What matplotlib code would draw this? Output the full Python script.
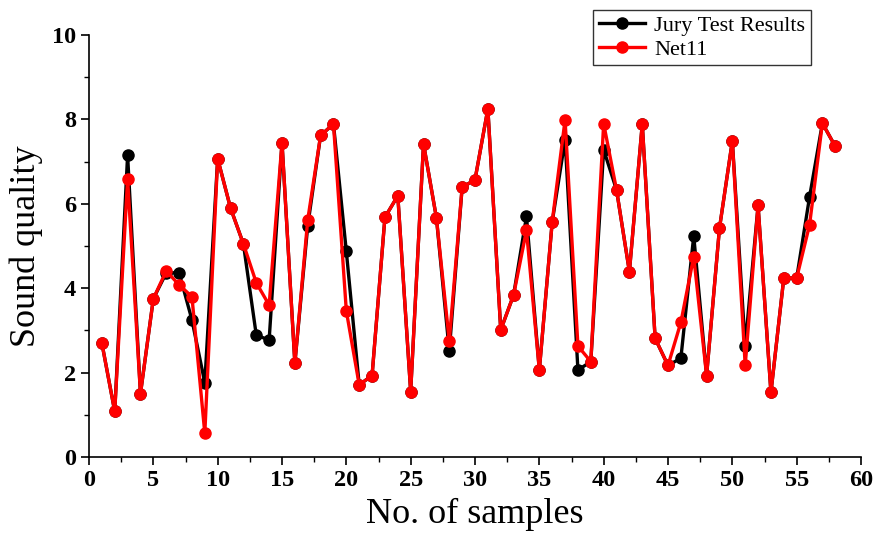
import matplotlib
matplotlib.use("Agg")
import matplotlib.pyplot as plt
from matplotlib.ticker import MultipleLocator

plt.rcParams["font.family"] = ["Liberation Serif", "DejaVu Serif"]

samples = list(range(1, 59))

jury = [2.70, 1.08, 7.15, 1.50, 3.75, 4.36, 4.37, 3.25, 1.76, 7.07,
        5.90, 5.05, 2.89, 2.77, 7.45, 2.22, 5.48, 7.62, 7.89, 4.87,
        1.71, 1.93, 5.68, 6.19, 1.55, 7.42, 5.67, 2.51, 6.39, 6.57,
        8.25, 3.01, 3.84, 5.70, 2.06, 5.57, 7.52, 2.06, 2.26, 7.28,
        6.33, 4.39, 7.89, 2.81, 2.17, 2.34, 5.24, 1.93, 5.42, 7.49,
        2.63, 5.96, 1.53, 4.24, 4.24, 6.16, 7.91, 7.36]

net11 = [2.70, 1.08, 6.58, 1.50, 3.75, 4.41, 4.08, 3.80, 0.56, 7.07,
         5.90, 5.05, 4.13, 3.60, 7.45, 2.22, 5.62, 7.62, 7.89, 3.46,
         1.71, 1.93, 5.68, 6.19, 1.55, 7.42, 5.67, 2.75, 6.39, 6.57,
         8.25, 3.01, 3.84, 5.37, 2.06, 5.57, 7.99, 2.63, 2.26, 7.90,
         6.33, 4.39, 7.89, 2.81, 2.17, 3.19, 4.75, 1.93, 5.42, 7.49,
         2.17, 5.96, 1.53, 4.24, 4.24, 5.50, 7.91, 7.36]

fig = plt.figure(figsize=(8.77, 5.40), dpi=100)
ax = fig.add_axes([89 / 877, 83 / 540, 772 / 877, 422 / 540])

ax.plot(samples, jury, color="black", marker="o", markersize=8,
        linewidth=2.4, label="Jury Test Results", zorder=2)
ax.plot(samples, net11, color="red", marker="o", markersize=8,
        linewidth=2.4, label="Net11", zorder=3)

ax.set_xlim(0, 60)
ax.set_ylim(0, 10)
ax.xaxis.set_major_locator(MultipleLocator(5))
ax.xaxis.set_minor_locator(MultipleLocator(2.5))
ax.yaxis.set_major_locator(MultipleLocator(2))
ax.yaxis.set_minor_locator(MultipleLocator(1))

for side in ("top", "right"):
    ax.spines[side].set_visible(False)
for side in ("left", "bottom"):
    ax.spines[side].set_linewidth(1.2)

ax.tick_params(which="major", direction="out", length=6, width=1.2,
               labelsize=17.5)
ax.tick_params(which="minor", direction="out", length=3.5, width=1.0)
for lbl in ax.get_xticklabels() + ax.get_yticklabels():
    lbl.set_fontweight("bold")

ax.set_xlabel("No. of samples", fontsize=26, labelpad=5)
ax.set_ylabel("Sound quality", fontsize=26, labelpad=6)

leg = ax.legend(loc="upper right", bbox_to_anchor=(0.935, 1.06),
                borderaxespad=0, fontsize=16, frameon=True, fancybox=False,
                handlelength=2.1, handletextpad=0.4, borderpad=0.25,
                labelspacing=0.15)
leg.get_frame().set_edgecolor("black")
leg.get_frame().set_linewidth(1.0)

fig.savefig("out.png", dpi=100)
